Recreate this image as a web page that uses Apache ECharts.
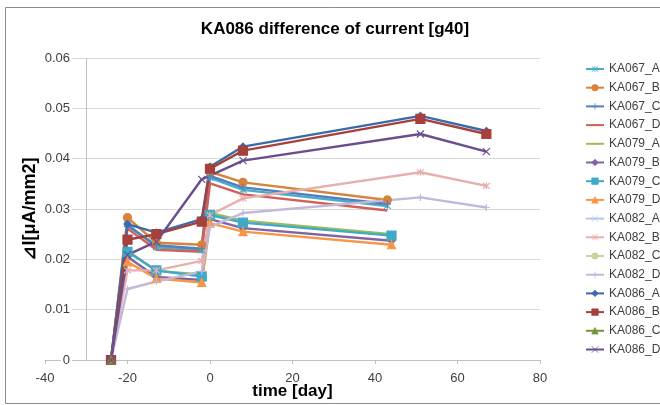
<!DOCTYPE html>
<html>
<head>
<meta charset="utf-8">
<script src="https://cdn.jsdelivr.net/npm/echarts@6/dist/echarts.min.js"></script>
<style>
  html, body { margin: 0; padding: 0; background: #fff; }
  #chart { width: 660px; height: 405px; }
</style>
</head>
<body>
<div id="chart"></div>
<script>
// days (x) for each group of samples
const daysKA067 = [-24, -20, -13, -2, 0, 8, 43];
const daysKA079 = [-24, -20, -13, -2, 0, 8, 44];
const daysKA082 = [-24, -20, -13, -2, 0, 8, 51, 67];
const daysKA086 = [-24, -20, -13, -2, 0, 8, 51, 67];
const daysKA086D = [-24, -20, -13, -2, 8, 51, 67];
const daysStartOnly = [-24];

// difference of current [uA/mm2]
const ka067A = [0, 0.0270, 0.0224, 0.0218, 0.0362, 0.0338, 0.0306];
const ka067B = [0, 0.0283, 0.0233, 0.0229, 0.0374, 0.0353, 0.0318];
const ka067C = [0, 0.0266, 0.0228, 0.0221, 0.0366, 0.0343, 0.0310];
const ka067D = [0, 0.0261, 0.0219, 0.0215, 0.0351, 0.0329, 0.0297];
const ka079A = [0, 0.0217, 0.0177, 0.0170, 0.0292, 0.0277, 0.0250];
const ka079B = [0, 0.0205, 0.0165, 0.0159, 0.0280, 0.0262, 0.0237];
const ka079C = [0, 0.0215, 0.0178, 0.0166, 0.0288, 0.0273, 0.0247];
const ka079D = [0, 0.0195, 0.0162, 0.0154, 0.0272, 0.0255, 0.0229];
const ka082A = [0];
const ka082B = [0, 0.0178, 0.0178, 0.0197, 0.0288, 0.0321, 0.0373, 0.0346];
const ka082C = [0];
const ka082D = [0, 0.0141, 0.0156, 0.0176, 0.0265, 0.0292, 0.0323, 0.0303];
const ka086A = [0, 0.0270, 0.0253, 0.0280, 0.0384, 0.0424, 0.0485, 0.0455];
const ka086B = [0, 0.0239, 0.0250, 0.0275, 0.0380, 0.0416, 0.0479, 0.0449];
const ka086C = [0];
const ka086D = [0, 0.0209, 0.0235, 0.0359, 0.0396, 0.0449, 0.0414];

const xTicks = [-40, -20, 0, 20, 40, 60, 80];
const yTicks = [0, 0.01, 0.02, 0.03, 0.04, 0.05, 0.06];

// marker shapes drawn as strokes
const STAR = 'path://M0,0L10,10M10,0L0,10M5,-1L5,11';
const PLUS = 'path://M5,0L5,10M0,5L10,5';
const CROSS = 'path://M0,0L10,10M10,0L0,10';
// flat dash (with a square box) so plain lines show no marker in the legend
const DASH = 'path://M0,0L0,0M0,5L10,5M10,10L10,10';

function pairs(days, vals) {
  return vals.map((v, i) => [days[i], v]);
}

function line(name, days, vals, color, symbol, size) {
  return {
    name,
    type: 'line',
    data: pairs(days, vals),
    symbol: symbol || DASH,
    symbolSize: size || 7,
    showSymbol: !!symbol,
    color,
    lineStyle: { color, width: 2.4 },
    itemStyle: { color, borderColor: color, borderWidth: 1.2 },
    emphasis: { disabled: true },
  };
}

const series = [
  line('KA067_A', daysKA067, ka067A, '#4BACC6', STAR, 7),
  line('KA067_B', daysKA067, ka067B, '#D9823B', 'circle', 8),
  line('KA067_C', daysKA067, ka067C, '#4F81BD', PLUS, 7),
  line('KA067_D', daysKA067, ka067D, '#D35F5B'),
  line('KA079_A', daysKA079, ka079A, '#9BBB59'),
  line('KA079_B', daysKA079, ka079B, '#8064A2', 'diamond', 7),
  line('KA079_C', daysKA079, ka079C, '#3FA9C8', 'rect', 9),
  line('KA079_D', daysKA079, ka079D, '#F79646', 'triangle', 8),
  line('KA082_A', daysStartOnly, ka082A, '#B4C7E7', CROSS, 7),
  line('KA082_B', daysKA082, ka082B, '#E6B0AE', STAR, 7),
  line('KA082_C', daysStartOnly, ka082C, '#C3D69B', 'circle', 8),
  line('KA082_D', daysKA082, ka082D, '#C3B8D8', PLUS, 7),
  line('KA086_A', daysKA086, ka086A, '#3A6BA8', 'diamond', 7),
  line('KA086_B', daysKA086, ka086B, '#A6403C', 'rect', 9),
  line('KA086_C', daysStartOnly, ka086C, '#77933C', 'triangle', 8),
  line('KA086_D', daysKA086D, ka086D, '#6A4F8F', CROSS, 7),
];

const legendNames = series.map(s => s.name);

// vertical axis crosses the time axis at -30
series.unshift({
  name: 'axis',
  type: 'line',
  data: [],
  silent: true,
  z: 1,
  markLine: {
    silent: true,
    symbol: ['none', 'none'],
    label: { show: false },
    lineStyle: { color: '#bfbfbf', type: 'solid', width: 1 },
    data: [{ xAxis: -30 }],
  },
});

const chart = echarts.init(document.getElementById('chart'), null, { renderer: 'canvas' });

chart.setOption({
  animation: false,
  backgroundColor: '#ffffff',
  textStyle: { fontFamily: 'Liberation Sans' },
  graphic: [{
    type: 'rect',
    shape: { x: 5.5, y: 7.5, width: 700, height: 396 },
    style: { fill: 'none', stroke: '#8c8c8c', lineWidth: 1 },
    z: -1,
  }],
  title: {
    text: 'KA086 difference of current [g40]',
    left: 335,
    textAlign: 'center',
    top: 21,
    padding: 0,
    textStyle: { fontSize: 17, fontWeight: 'bold', color: '#000' },
  },
  legend: {
    orient: 'vertical',
    left: 585,
    top: 63,
    itemWidth: 18,
    itemHeight: 8,
    itemGap: 6.7,
    padding: 0,
    itemStyle: { borderWidth: 0.8 },
    textStyle: { fontSize: 12, color: '#404040' },
    data: legendNames,
  },
  grid: { left: 45, right: 120, top: 58, bottom: 45, outerBoundsMode: 'none', containLabel: false },
  xAxis: {
    type: 'value',
    min: xTicks[0],
    max: xTicks[xTicks.length - 1],
    interval: 20,
    name: 'time [day]',
    nameLocation: 'middle',
    nameGap: 23,
    nameMoveOverlap: false,
    nameTextStyle: { fontSize: 17, fontWeight: 'bold', color: '#000' },
    axisLine: { lineStyle: { color: '#bfbfbf' } },
    axisTick: { show: true, length: 4, lineStyle: { color: '#bfbfbf' } },
    axisLabel: { fontSize: 13, color: '#404040', margin: 12 },
    splitLine: { show: false },
  },
  yAxis: {
    type: 'value',
    min: yTicks[0],
    max: yTicks[yTicks.length - 1],
    interval: 0.01,
    name: '⊿I[μA/mm2]',
    nameLocation: 'middle',
    nameGap: 6,
    nameMoveOverlap: false,
    nameTextStyle: { fontSize: 18, fontWeight: 'bold', color: '#000' },
    axisLine: { show: false },
    axisTick: { show: false },
    axisLabel: {
      fontSize: 13, color: '#404040', margin: -27,
      backgroundColor: '#fff', padding: [0, 2],
    },
    splitLine: { lineStyle: { color: '#d9d9d9', width: 1 } },
  },
  series,
});
</script>
</body>
</html>
